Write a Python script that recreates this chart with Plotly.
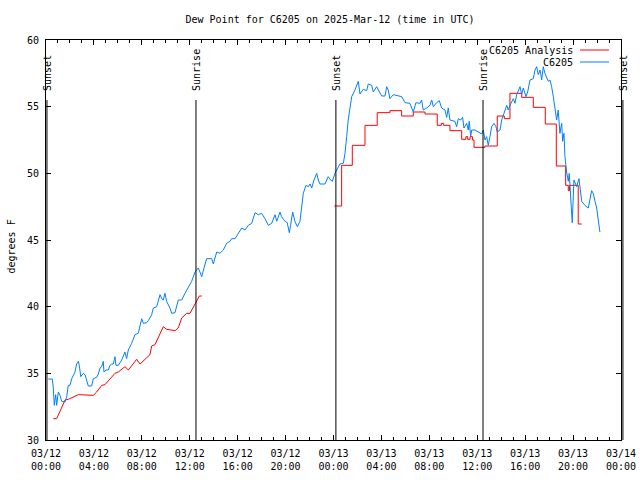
import pandas as pd
import plotly.graph_objects as go

BASE = pd.Timestamp("2025-03-12 00:00")
X_END = pd.Timestamp("2025-03-14 00:00")

# C6205 observations (hours after 2025-03-12 00:00 UTC, degrees F)
blue_hours = [0.19, 0.53, 0.61, 0.69, 0.81, 0.89, 1.03, 1.17, 1.31, 1.59, 1.73, 1.86, 2.0, 2.15, 2.42, 2.56, 2.70, 2.78, 2.90, 3.11,
              3.26, 3.40, 3.53, 3.81, 3.95, 4.23, 4.37, 4.51, 4.65, 4.78, 4.84, 5.01, 5.20, 5.34, 5.48, 5.62, 5.76, 5.84, 6.04, 6.32,
              6.59, 6.73, 6.87, 7.15, 7.43, 7.70, 7.99, 8.12, 8.40, 8.54, 8.82, 8.96, 9.24, 9.52, 9.66, 9.79, 9.93, 10.07, 10.35, 10.49,
              10.77, 11.04, 11.33, 11.60, 11.88, 12.16, 12.44, 12.71, 12.85, 13.0, 13.19, 13.41, 13.83, 13.97, 14.25, 14.52, 14.80, 15.08,
              15.36, 15.50, 15.78, 16.05, 16.34, 16.61, 16.89, 17.17, 17.45, 17.72, 18.0, 18.28, 18.56, 18.84, 19.12, 19.26, 19.53, 19.67,
              19.95, 20.14, 20.31, 20.42, 20.59, 20.78, 20.98, 21.20, 21.34, 21.48, 21.70, 21.90, 22.04, 22.18, 22.37, 22.60, 22.73, 22.87,
              23.29, 23.56, 23.76, 23.90, 24.12, 24.26, 24.40, 24.54, 24.82, 24.96, 25.10, 25.23, 25.52, 25.79, 26.07, 26.21, 26.49, 26.77,
              26.90, 27.19, 27.32, 27.60, 28.02, 28.30, 28.44, 28.57, 28.71, 28.99, 29.69, 29.97, 30.38, 30.66, 30.88, 31.22, 31.36, 31.49,
              31.78, 32.05, 32.20, 32.33, 32.61, 32.83, 33.03, 33.31, 33.45, 33.58, 33.72, 34.14, 34.28, 34.42, 34.62, 34.78, 34.89, 35.12,
              35.25, 35.33, 35.45, 35.54, 35.81, 36.09, 36.37, 36.51, 36.64, 36.79, 36.92, 37.06, 37.20, 37.40, 37.56, 37.67, 37.90, 38.04,
              38.31, 38.46, 38.59, 38.73, 39.01, 39.15, 39.29, 39.42, 39.57, 39.71, 39.84, 40.07, 40.21, 40.40, 40.68, 40.82, 40.96, 41.09,
              41.24, 41.38, 41.51, 41.65, 41.79, 41.93, 42.07, 42.21, 42.35, 42.49, 42.63, 42.76, 42.90, 43.05, 43.13, 43.24, 43.32, 43.46,
              43.60, 43.68, 43.80, 43.93, 44.07, 44.30, 44.49, 44.57, 44.72, 44.99, 45.27, 45.55, 45.68, 45.83, 45.97, 46.10, 46.24]
blue_vals = [34.57, 34.57, 33.9, 32.6, 33.4, 32.6, 33.6, 33.35, 32.9, 32.85, 33.25, 34.1, 34.1, 34.6, 35.1, 35.7, 35.9, 35.6, 34.75, 35.0,
             34.9, 34.5, 34.05, 34.05, 34.6, 34.7, 34.95, 35.4, 35.5, 35.9, 35.1, 35.25, 35.25, 35.6, 35.7, 35.7, 36.25, 35.6, 35.6, 36.0,
             36.6, 36.1, 36.75, 37.25, 37.9, 38.0, 39.1, 38.75, 38.8, 38.95, 39.4, 39.9, 40.0, 40.9, 40.6, 40.5, 41.0, 40.4, 39.9, 39.5,
             39.55, 40.5, 40.5, 41.0, 41.4, 41.9, 42.6, 42.9, 42.6, 42.25, 42.9, 43.6, 43.6, 43.2, 44.1, 44.0, 44.25, 44.75,
             44.9, 45.1, 45.1, 45.5, 45.9, 45.75, 46.1, 46.25, 47.05, 46.9, 47.0, 46.6, 46.1, 46.25, 46.9, 46.4, 47.1, 46.75,
             46.4, 46.3, 45.55, 46.1, 47.1, 46.4, 46.0, 46.4, 47.75, 48.5, 49.1, 49.0, 49.2, 48.9, 49.5, 50.0, 49.5, 49.2,
             49.2, 49.75, 49.5, 49.4, 50.0, 50.25, 50.5, 50.7, 50.75, 51.5, 52.75, 54.0, 55.75, 56.25, 56.9, 55.95, 56.3, 56.2,
             56.7, 56.6, 56.1, 56.5, 55.8, 55.8, 56.5, 56.25, 55.6, 55.9, 55.75, 55.3, 55.25, 54.6, 55.3, 55.25, 55.5, 54.75,
             54.9, 55.1, 55.5, 55.0, 55.3, 55.45, 54.9, 54.75, 54.2, 54.9, 54.0, 53.9, 53.5, 54.1, 54.0, 54.2, 53.4, 53.75,
             53.25, 53.9, 52.8, 53.25, 53.25, 53.1, 52.95, 53.25, 52.5, 52.75, 52.1, 52.75, 53.5, 53.75, 53.5, 53.1, 53.25, 54.0,
             54.75, 55.1, 54.75, 55.1, 55.6, 55.25, 55.9, 56.25, 56.5, 55.9, 56.4, 55.75, 56.1, 57.0, 57.1, 57.75, 58.0, 57.4,
             57.75, 57.0, 58.0, 57.5, 57.25, 56.9, 57.0, 56.5, 55.75, 54.75, 54.0, 54.75, 53.0, 53.75, 52.4, 53.0, 51.25, 50.1,
             49.4, 50.0, 48.25, 46.3, 49.5, 49.0, 49.6, 49.1, 47.9, 47.6, 47.4, 48.7, 48.5, 47.9, 47.4, 46.5, 45.6]

# C6205 Analysis, first night (smooth segments)
red1_hours = [0.61, 0.89, 1.59, 1.86, 2.70, 3.40, 3.95, 4.23, 4.65, 4.92, 5.76, 6.04, 6.59, 6.87, 7.57, 7.85, 8.68, 8.82, 9.10,
              9.79, 10.07, 10.77, 11.04, 11.33, 11.74, 12.02, 12.58, 12.80, 13.0]
red1_vals = [31.6, 31.6, 33.0, 33.05, 33.4, 33.4, 33.35, 33.6, 34.1, 34.15, 35.0, 35.1, 35.5, 35.25, 36.05, 35.7, 36.4, 37.05, 37.15,
             38.5, 38.3, 38.2, 38.4, 39.15, 39.5, 39.5, 40.5, 40.8, 40.8]

# C6205 Analysis, second night (stepped)
red2_hours = [24.07, 24.68, 25.57, 26.63, 27.65, 28.71, 29.69, 30.66, 31.64, 32.66, 33.0, 33.2, 33.72, 34.70, 35.05, 35.2, 35.4,
              35.6, 35.73, 36.64, 37.67, 38.26, 38.73, 39.71, 40.68, 41.68, 42.6, 43.38, 43.6, 43.7, 44.43, 44.72]
red2_vals = [47.55, 50.6, 52.1, 53.6, 54.55, 54.7, 54.3, 54.6, 54.45, 53.6, 53.75, 53.6, 53.2, 52.55, 52.75, 52.55, 52.75,
             52.5, 51.95, 52.05, 54.3, 54.1, 56.0, 55.7, 54.95, 53.7, 50.55, 49.1, 48.7, 49.1, 46.2, 46.2]

# Sun events (hours after 2025-03-12 00:00 UTC)
event_hours = [0.08, 12.52, 24.20, 36.48, 48.16]
event_labels = ["Sunset", "Sunrise", "Sunset", "Sunrise", "Sunset"]
EVENT_TOP = 55.5

x_tick_hours = list(range(0, 49, 4))
y_ticks = [30, 35, 40, 45, 50, 55, 60]


def to_time(h):
    return BASE + pd.to_timedelta(h, unit="h")


FONT = "DejaVu Sans Mono"
fig = go.Figure()
fig.add_trace(go.Scatter(x=[to_time(h) for h in red1_hours], y=red1_vals, mode="lines",
                         line=dict(color="#ff0000", width=1), name="C6205 Analysis"))
fig.add_trace(go.Scatter(x=[to_time(h) for h in red2_hours], y=red2_vals, mode="lines", line_shape="hv",
                         line=dict(color="#ff0000", width=1), name="C6205 Analysis", showlegend=False))
fig.add_trace(go.Scatter(x=[to_time(h) for h in blue_hours], y=blue_vals, mode="lines",
                         line=dict(color="#0080ff", width=1), name="C6205"))

shapes = []
annotations = []
span = 48.0
for h, lab in zip(event_hours, event_labels):
    if h <= span:
        xr, xv = "x", to_time(h)
    else:
        xr, xv = "x domain", h / span
    shapes.append(dict(type="line", xref=xr, yref="y", x0=xv, x1=xv, y0=30, y1=EVENT_TOP,
                       line=dict(color="black", width=1)))
    annotations.append(dict(text=lab, xref=xr, yref="paper", x=xv, y=0.87, xanchor="center", yanchor="bottom",
                            textangle=-90, showarrow=False, font=dict(family=FONT, size=10, color="black"),
                            borderpad=0))

# legend drawn gnuplot-style (text right, sample on the right)
leg = [("C6205 Analysis", "#ff0000", 50), ("C6205", "#0080ff", 62)]
for txt, col, py in leg:
    yp = (440 - py) / 400
    annotations.append(dict(text=txt, xref="paper", yref="paper", x=(575 - 46) / 575, y=yp, xanchor="right",
                            yanchor="middle", showarrow=False, font=dict(family=FONT, size=10, color="black")))
    shapes.append(dict(type="line", xref="paper", yref="paper", x0=(580 - 46) / 575, x1=(609 - 46) / 575,
                       y0=yp, y1=yp, line=dict(color=col, width=1)))

annotations.append(dict(text="degrees F", xref="paper", yref="paper", x=(10.5 - 46) / 575, y=0.4825,
                        xanchor="center", yanchor="middle", textangle=-90, showarrow=False,
                        font=dict(family=FONT, size=10, color="black")))

fig.update_layout(
    width=640, height=480,
    margin=dict(l=46, r=19, t=40, b=40, autoexpand=False),
    paper_bgcolor="white", plot_bgcolor="white",
    showlegend=False,
    title=dict(text="Dew Point for C6205 on 2025-Mar-12 (time in UTC)", x=330 / 640, xanchor="center",
               y=1 - 19 / 480, yanchor="middle", font=dict(family=FONT, size=10, color="black")),
    shapes=shapes, annotations=annotations,
    font=dict(family=FONT, size=10, color="black"),
)
fig.update_xaxes(
    range=[BASE, X_END], showgrid=False, zeroline=False,
    showline=True, linecolor="black", linewidth=1, mirror="ticks",
    ticks="inside", ticklen=5, tickcolor="black",
    tickvals=[to_time(h) for h in x_tick_hours],
    ticktext=[to_time(h).strftime("%m/%d<br>%H:%M") for h in x_tick_hours],
    minor=dict(ticks="inside", ticklen=3, tickcolor="black", dtick=3600000),
    tickfont=dict(family=FONT, size=10, color="black"),
    ticklabelstandoff=4,
)
fig.update_yaxes(
    range=[30, 60], showgrid=False, zeroline=False,
    showline=True, linecolor="black", linewidth=1, mirror="ticks",
    ticks="inside", ticklen=5, tickcolor="black",
    tickvals=y_ticks, ticktext=[str(v) for v in y_ticks],
    tickfont=dict(family=FONT, size=10, color="black"),
    ticklabelstandoff=4,
)

fig.write_html("out.html", config={"displayModeBar": False},
               post_script="document.body.style.margin='0';")
